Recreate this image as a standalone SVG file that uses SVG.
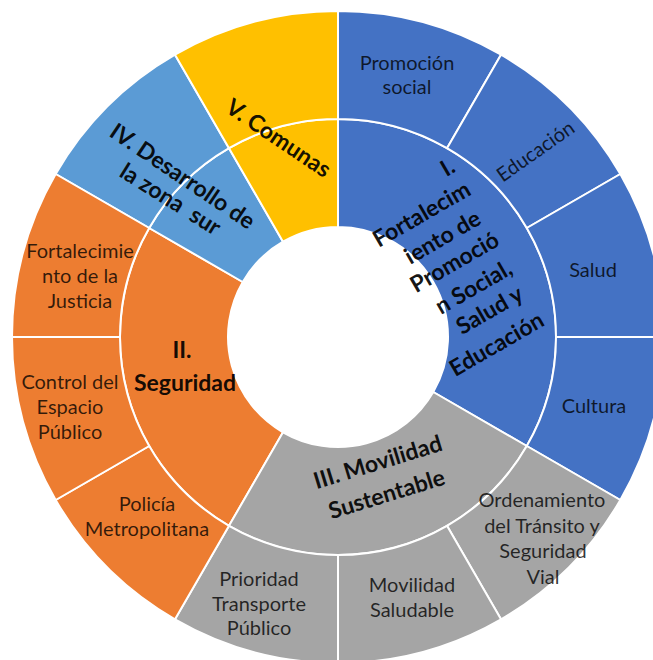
<svg xmlns="http://www.w3.org/2000/svg" width="653" height="660" viewBox="0 0 653 660">
<style>
.seg{stroke:#fff;stroke-width:2;stroke-linejoin:round}
.blue{fill:#4472C4}.orange{fill:#ED7D31}.gray{fill:#A5A5A5}.yellow{fill:#FFC000}.lblue{fill:#5B9BD5}
.lbl{font-family:Lato,"Open Sans","Liberation Sans",sans-serif;font-size:20px;text-anchor:middle;fill:#000;fill-opacity:.78}
.hd{font-family:Lato,"Open Sans","Liberation Sans",sans-serif;font-size:23px;font-weight:bold;text-anchor:middle;fill:#000;fill-opacity:.92}
</style>
<rect width="653" height="660" fill="#fff"/>
<g id="nodes">
<g id="n-I">
<path class="seg blue" d="M338,119 A218,218 0 0 1 526.79,446 L433.26,392 A110,110 0 0 0 338,227 Z"/>
<g transform="translate(448,168) rotate(-30)"><text class="hd" y="7">I.</text></g>
<g transform="translate(422,215) rotate(-30)"><text class="hd" y="7">Fortalecim</text></g>
<g transform="translate(443,238) rotate(-30)"><text class="hd" y="7">iento de</text></g>
<g transform="translate(455,263) rotate(-30)"><text class="hd" y="7">Promoció</text></g>
<g transform="translate(474,288) rotate(-30)"><text class="hd" y="7">n Social,</text></g>
<g transform="translate(490,311) rotate(-30)"><text class="hd" y="7">Salud y</text></g>
<g transform="translate(497,345) rotate(-30)"><text class="hd" y="7">Educación</text></g>
</g>
<g id="n-II">
<path class="seg orange" d="M229,525.79 A218,218 0 0 1 149.21,228 L242.74,282 A110,110 0 0 0 283,432.26 Z"/>
<text class="hd" x="182" y="358">II.</text>
<text class="hd" x="185" y="391">Seguridad</text>
</g>
<g id="n-III">
<path class="seg gray" d="M526.79,446 A218,218 0 0 1 229,525.79 L283,432.26 A110,110 0 0 0 433.26,392 Z"/>
<g transform="translate(378,463) rotate(-17)"><text class="hd" y="7">III. Movilidad</text></g>
<g transform="translate(387,495) rotate(-17)"><text class="hd" y="7">Sustentable</text></g>
</g>
<g id="n-IV">
<path class="seg lblue" d="M149.21,228 A218,218 0 0 1 229,148.21 L283,241.74 A110,110 0 0 0 242.74,282 Z"/>
<path class="seg lblue" d="M55.67,174 A326,326 0 0 1 175,54.67 L229,148.21 A218,218 0 0 0 149.21,228 Z"/>
<g transform="translate(182,177) rotate(34)"><text class="hd" y="7">IV. Desarrollo de</text></g>
<g transform="translate(170,200) rotate(32)"><text class="hd" y="7" xml:space="preserve">la zona  sur</text></g>
</g>
<g id="n-V">
<path class="seg yellow" d="M229,148.21 A218,218 0 0 1 338,119 L338,227 A110,110 0 0 0 283,241.74 Z"/>
<path class="seg yellow" d="M175,54.67 A326,326 0 0 1 338,11 L338,119 A218,218 0 0 0 229,148.21 Z"/>
<g transform="translate(278,139) rotate(34)"><text class="hd" y="7">V. Comunas</text></g>
</g>
<g id="n-promocion">
<path class="seg blue" d="M338,11 A326,326 0 0 1 501,54.67 L447,148.21 A218,218 0 0 0 338,119 Z"/>
<text class="lbl" x="407" y="70">Promoción</text>
<text class="lbl" x="407" y="94">social</text>
</g>
<g id="n-educacion">
<path class="seg blue" d="M501,54.67 A326,326 0 0 1 620.33,174 L526.79,228 A218,218 0 0 0 447,148.21 Z"/>
<g transform="translate(536,152) rotate(-35)"><text class="lbl" y="6">Educación</text></g>
</g>
<g id="n-salud">
<path class="seg blue" d="M620.33,174 A326,326 0 0 1 664,337 L556,337 A218,218 0 0 0 526.79,228 Z"/>
<text class="lbl" x="593" y="277">Salud</text>
</g>
<g id="n-cultura">
<path class="seg blue" d="M664,337 A326,326 0 0 1 620.33,500 L526.79,446 A218,218 0 0 0 556,337 Z"/>
<text class="lbl" x="594" y="413">Cultura</text>
</g>
<g id="n-ordenamiento">
<path class="seg gray" d="M620.33,500 A326,326 0 0 1 501,619.33 L447,525.79 A218,218 0 0 0 526.79,446 Z"/>
<text class="lbl" x="542" y="507">Ordenamiento</text>
<text class="lbl" x="542" y="533">del Tránsito y</text>
<text class="lbl" x="543" y="558">Seguridad</text>
<text class="lbl" x="543" y="584">Vial</text>
</g>
<g id="n-movilidad-saludable">
<path class="seg gray" d="M501,619.33 A326,326 0 0 1 338,663 L338,555 A218,218 0 0 0 447,525.79 Z"/>
<text class="lbl" x="412" y="592">Movilidad</text>
<text class="lbl" x="412" y="617">Saludable</text>
</g>
<g id="n-prioridad">
<path class="seg gray" d="M338,663 A326,326 0 0 1 175,619.33 L229,525.79 A218,218 0 0 0 338,555 Z"/>
<text class="lbl" x="259" y="586">Prioridad</text>
<text class="lbl" x="259" y="611">Transporte</text>
<text class="lbl" x="259" y="635">Público</text>
</g>
<g id="n-policia">
<path class="seg orange" d="M175,619.33 A326,326 0 0 1 55.67,500 L149.21,446 A218,218 0 0 0 229,525.79 Z"/>
<text class="lbl" x="147" y="511">Policía</text>
<text class="lbl" x="147" y="536">Metropolitana</text>
</g>
<g id="n-control">
<path class="seg orange" d="M55.67,500 A326,326 0 0 1 12,337 L120,337 A218,218 0 0 0 149.21,446 Z"/>
<text class="lbl" x="70" y="389">Control del</text>
<text class="lbl" x="70" y="414">Espacio</text>
<text class="lbl" x="70" y="439">Público</text>
</g>
<g id="n-justicia">
<path class="seg orange" d="M12,337 A326,326 0 0 1 55.67,174 L149.21,228 A218,218 0 0 0 120,337 Z"/>
<text class="lbl" x="80" y="258">Fortalecimie</text>
<text class="lbl" x="80" y="283">nto de la</text>
<text class="lbl" x="80" y="308">Justicia</text>
</g>
</g>
<g id="connectors"/>
</svg>
